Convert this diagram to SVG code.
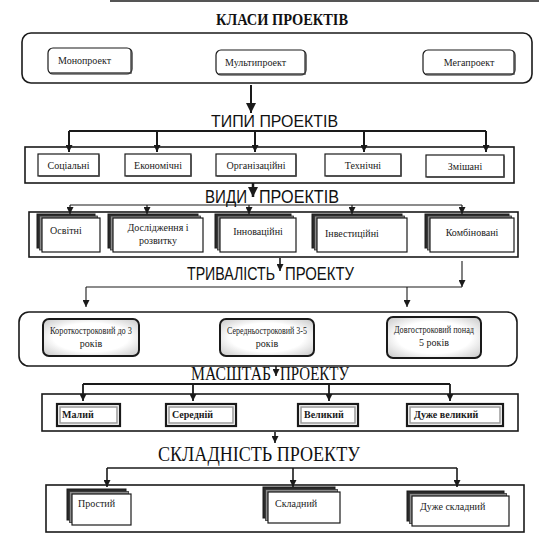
<svg xmlns="http://www.w3.org/2000/svg" width="539" height="543" viewBox="0 0 539 543">
<defs>
<marker id="ah" viewBox="0 0 8 8" refX="8" refY="4" markerWidth="7" markerHeight="7" orient="auto" markerUnits="userSpaceOnUse"><path d="M0,0 L8,4 L0,8 z" fill="#1a1a1a"/></marker>
<marker id="ahb" viewBox="0 0 8 8" refX="8" refY="4" markerWidth="10" markerHeight="10" orient="auto" markerUnits="userSpaceOnUse"><path d="M0,0 L8,4 L0,8 z" fill="#1a1a1a"/></marker>
<radialGradient id="sh" cx="50%" cy="50%" r="65%"><stop offset="0.6" stop-color="#ffffff"/><stop offset="1" stop-color="#cfcfcf"/></radialGradient>
</defs>
<style>
.ob{fill:#fff;stroke:#1a1a1a;stroke-width:1.6}
.bx{fill:#fff;stroke:#1a1a1a;stroke-width:1.2}
.sd{fill:none;stroke:#444;stroke-width:1.4}
.bk{fill:#2a2a2a;stroke:#1a1a1a;stroke-width:1}
.md{fill:#8a8a8a;stroke:#333;stroke-width:0.8}
.tb{fill:url(#sh);stroke:#1a1a1a;stroke-width:2}
.mb{fill:#fff;stroke:#1a1a1a;stroke-width:2.2}
.mi{fill:none;stroke:#9a9a9a;stroke-width:1.5}
.lb{font-family:"Liberation Serif","Times New Roman",serif;font-size:10px;fill:#1a1a1a}
.hd{fill:#111}
.sa{font-family:"Liberation Sans",Arial,sans-serif}
.se{font-family:"Liberation Serif","Times New Roman",serif}
.cn{fill:none;stroke:#1a1a1a}
</style>
<rect x="110" y="0" width="429" height="2" fill="#555"/>

<text class="hd se" x="282" y="25" text-anchor="middle" font-weight="bold" font-size="16" textLength="132" lengthAdjust="spacingAndGlyphs">КЛАСИ ПРОЕКТІВ</text>
<g id="classes">
<rect class="ob" x="22" y="33" width="510" height="50" rx="9"/>
<g id="mono"><rect class="bx" x="48" y="48" width="84" height="26" rx="5"/><path class="sd" d="M131,50 V73 H51"/><text class="lb" x="58" y="64">Монопроект</text></g>
<g id="multi"><rect class="bx" x="216" y="50" width="90" height="25" rx="5"/><path class="sd" d="M305,52 V74 H219"/><text class="lb" x="225" y="66">Мультипроект</text></g>
<g id="mega"><rect class="bx" x="423" y="50" width="92" height="25" rx="5"/><path class="sd" d="M514,52 V74 H426"/><text class="lb" x="469" y="66" text-anchor="middle">Мегапроект</text></g>
</g>

<text class="hd sa" x="211" y="127" font-size="16" textLength="127" lengthAdjust="spacingAndGlyphs">ТИПИ ПРОЕКТІВ</text>
<g id="types">
<rect class="ob" x="25" y="147" width="489" height="36"/>
<g id="t1"><rect class="bx" x="38" y="154" width="61" height="22"/><path class="sd" d="M99,155 V176 H39"/><text class="lb" x="68.5" y="169" text-anchor="middle">Соціальні</text></g>
<g id="t2"><rect class="bx" x="125" y="154" width="66" height="22"/><path class="sd" d="M191,155 V176 H126"/><text class="lb" x="158" y="169" text-anchor="middle">Економічні</text></g>
<g id="t3"><rect class="bx" x="216" y="154" width="80" height="22"/><path class="sd" d="M296,155 V176 H217"/><text class="lb" x="256" y="169" text-anchor="middle">Організаційні</text></g>
<g id="t4"><rect class="bx" x="325" y="154" width="76" height="22"/><path class="sd" d="M401,155 V176 H326"/><text class="lb" x="363" y="169" text-anchor="middle">Технічні</text></g>
<g id="t5"><rect class="bx" x="426" y="155" width="78" height="22"/><path class="sd" d="M504,156 V177 H427"/><text class="lb" x="465" y="170" text-anchor="middle">Змішані</text></g>
</g>

<text class="hd sa" x="205" y="203" font-size="17.5" textLength="42" lengthAdjust="spacingAndGlyphs">ВИДИ</text>
<text class="hd sa" x="259" y="203" font-size="17.5" textLength="80" lengthAdjust="spacingAndGlyphs">ПРОЕКТІВ</text>
<g id="kinds">
<rect class="ob" x="29" y="212" width="489" height="45" stroke-width="1.2"/>
<g id="k1"><rect class="bk" x="37" y="214" width="58" height="34"/><rect class="md" x="39.5" y="216" width="58" height="34"/><rect class="bx" x="42" y="218" width="58" height="34"/><text class="lb" x="50" y="234">Освітні</text></g>
<g id="k2"><rect class="bk" x="108" y="214" width="90" height="34"/><rect class="md" x="110.5" y="216" width="90" height="34"/><rect class="bx" x="113" y="218" width="90" height="34"/><text class="lb" x="158" y="231" text-anchor="middle">Дослідження і</text><text class="lb" x="158" y="244" text-anchor="middle">розвитку</text></g>
<g id="k3"><rect class="bk" x="215" y="214" width="76" height="34"/><rect class="md" x="217.5" y="216" width="76" height="34"/><rect class="bx" x="220" y="218" width="76" height="34"/><text class="lb" x="258" y="235" text-anchor="middle">Інноваційні</text></g>
<g id="k4"><rect class="bk" x="312" y="214" width="90" height="34"/><rect class="md" x="314.5" y="216" width="90" height="34"/><rect class="bx" x="317" y="218" width="90" height="34"/><text class="lb" x="325" y="237">Інвестиційні</text></g>
<g id="k5"><rect class="bk" x="425" y="214" width="84" height="34"/><rect class="md" x="427.5" y="216" width="84" height="34"/><rect class="bx" x="430" y="218" width="84" height="34"/><text class="lb" x="472" y="236" text-anchor="middle">Комбіновані</text></g>
</g>

<text class="hd sa" transform="translate(187,280) scale(1,1.2)" x="0" y="0" font-size="15" textLength="88" lengthAdjust="spacingAndGlyphs">ТРИВАЛІСТЬ</text>
<text class="hd sa" transform="translate(285,280) scale(1,1.2)" x="0" y="0" font-size="15" textLength="69" lengthAdjust="spacingAndGlyphs">ПРОЕКТУ</text>
<g id="duration">
<rect class="ob" x="19" y="312" width="498" height="54" rx="10" stroke-width="1.3"/>
<g id="d1"><rect class="tb" x="43" y="319" width="96" height="37" rx="6"/><text class="lb" font-size="9" x="91" y="334" text-anchor="middle" textLength="82" lengthAdjust="spacingAndGlyphs">Короткостроковий до 3</text><text class="lb" font-size="9" x="91" y="347" text-anchor="middle">років</text></g>
<g id="d2"><rect class="tb" x="220" y="319" width="94" height="37" rx="6"/><text class="lb" font-size="9" x="267" y="334" text-anchor="middle" textLength="80" lengthAdjust="spacingAndGlyphs">Середньостроковий 3-5</text><text class="lb" font-size="9" x="267" y="347" text-anchor="middle">років</text></g>
<g id="d3"><rect class="tb" x="387" y="317" width="94" height="41" rx="6"/><text class="lb" font-size="9" x="434" y="333" text-anchor="middle" textLength="80" lengthAdjust="spacingAndGlyphs">Довгостроковий понад</text><text class="lb" font-size="9" x="434" y="346" text-anchor="middle">5 років</text></g>
</g>

<text class="hd se" x="191" y="380" font-size="18" textLength="80" lengthAdjust="spacingAndGlyphs">МАСШТАБ</text>
<text class="hd se" x="280" y="380" font-size="18" textLength="69" lengthAdjust="spacingAndGlyphs">ПРОЕКТУ</text>
<g id="scale">
<rect class="ob" x="42" y="394" width="476" height="37" stroke-width="1.1"/>
<g id="s1"><rect class="mb" x="57" y="404" width="63" height="22"/><rect class="mi" x="60" y="407" width="57" height="16"/><text class="lb" font-size="9" font-weight="bold" x="62" y="418">Малий</text></g>
<g id="s2"><rect class="mb" x="166" y="404" width="70" height="22"/><rect class="mi" x="169" y="407" width="64" height="16"/><text class="lb" font-size="9" font-weight="bold" x="172" y="418">Середній</text></g>
<g id="s3"><rect class="mb" x="298" y="404" width="60" height="22"/><rect class="mi" x="301" y="407" width="54" height="16"/><text class="lb" font-size="9" font-weight="bold" x="304" y="418">Великий</text></g>
<g id="s4"><rect class="mb" x="407" y="404" width="96" height="22"/><rect class="mi" x="410" y="407" width="90" height="16"/><text class="lb" font-size="9" font-weight="bold" x="414" y="418">Дуже великий</text></g>
</g>

<text class="hd se" x="158" y="461" font-size="20" textLength="202" lengthAdjust="spacingAndGlyphs">СКЛАДНІСТЬ  ПРОЕКТУ</text>
<g id="complexity">
<rect class="ob" x="46" y="485" width="478" height="47" stroke-width="1.1"/>
<g id="c1"><rect class="bk" x="67" y="489" width="59" height="31"/><rect class="md" x="69.5" y="491.5" width="59" height="31"/><rect class="bx" x="72" y="494" width="59" height="31"/><text class="lb" x="78" y="507">Простий</text></g>
<g id="c2"><rect class="bk" x="263" y="487" width="72" height="31"/><rect class="md" x="265.5" y="489.5" width="72" height="31"/><rect class="bx" x="268" y="492" width="72" height="31"/><text class="lb" x="275" y="507">Складний</text></g>
<g id="c3"><rect class="bk" x="407" y="491" width="97" height="30"/><rect class="md" x="409.5" y="493.5" width="97" height="30"/><rect class="bx" x="412" y="496" width="97" height="30"/><text class="lb" x="420" y="510">Дуже складний</text></g>
</g>

<g id="connectors">
<path class="cn" stroke-width="2" d="M251,85 V113" marker-end="url(#ahb)"/>
<path class="cn" stroke-width="2" d="M69,131 H486"/>
<path class="cn" stroke-width="2" d="M69,131 V152" marker-end="url(#ah)"/>
<path class="cn" stroke-width="2" d="M157,131 V152" marker-end="url(#ah)"/>
<path class="cn" stroke-width="2" d="M255,131 V152" marker-end="url(#ah)"/>
<path class="cn" stroke-width="2" d="M364,131 V152" marker-end="url(#ah)"/>
<path class="cn" stroke-width="2" d="M486,131 V152" marker-end="url(#ah)"/>
<path class="cn" stroke-width="2.5" d="M253,183 V197" marker-end="url(#ahb)"/>
<path class="cn" stroke-width="1.2" d="M70,205 H462"/>
<path class="cn" stroke-width="1.2" d="M70,205 V214" marker-end="url(#ah)"/>
<path class="cn" stroke-width="1.2" d="M147,205 V214" marker-end="url(#ah)"/>
<path class="cn" stroke-width="1.2" d="M249,205 V214" marker-end="url(#ah)"/>
<path class="cn" stroke-width="1.2" d="M352,205 V214" marker-end="url(#ah)"/>
<path class="cn" stroke-width="1.2" d="M462,205 V214" marker-end="url(#ah)"/>
<path class="cn" stroke-width="1.6" d="M280,258 V271" marker-end="url(#ah)"/>
<path class="cn" stroke-width="1.1" d="M462,261 V287" marker-end="url(#ah)"/>
<path class="cn" stroke-width="1.1" d="M86,287 H462"/>
<path class="cn" stroke-width="1.1" d="M86,287 V307" marker-end="url(#ah)"/>
<path class="cn" stroke-width="1.1" d="M407,287 V307" marker-end="url(#ah)"/>
<path class="cn" stroke-width="1.6" d="M276,366 V376" marker-end="url(#ah)"/>
<path class="cn" stroke-width="1.8" d="M83,384 H450"/>
<path class="cn" stroke-width="1.8" d="M83,384 V401" marker-end="url(#ah)"/>
<path class="cn" stroke-width="1.8" d="M193,384 V401" marker-end="url(#ah)"/>
<path class="cn" stroke-width="1.8" d="M329,384 V401" marker-end="url(#ah)"/>
<path class="cn" stroke-width="1.8" d="M450,384 V401" marker-end="url(#ah)"/>
<path class="cn" stroke-width="1.6" d="M275,432 V443" marker-end="url(#ah)"/>
<path class="cn" stroke-width="1.6" d="M107,468 H457"/>
<path class="cn" stroke-width="1.6" d="M107,468 V487" marker-end="url(#ah)"/>
<path class="cn" stroke-width="1.6" d="M293,468 V487" marker-end="url(#ah)"/>
<path class="cn" stroke-width="1.6" d="M457,468 V487" marker-end="url(#ah)"/>
</g>
</svg>
